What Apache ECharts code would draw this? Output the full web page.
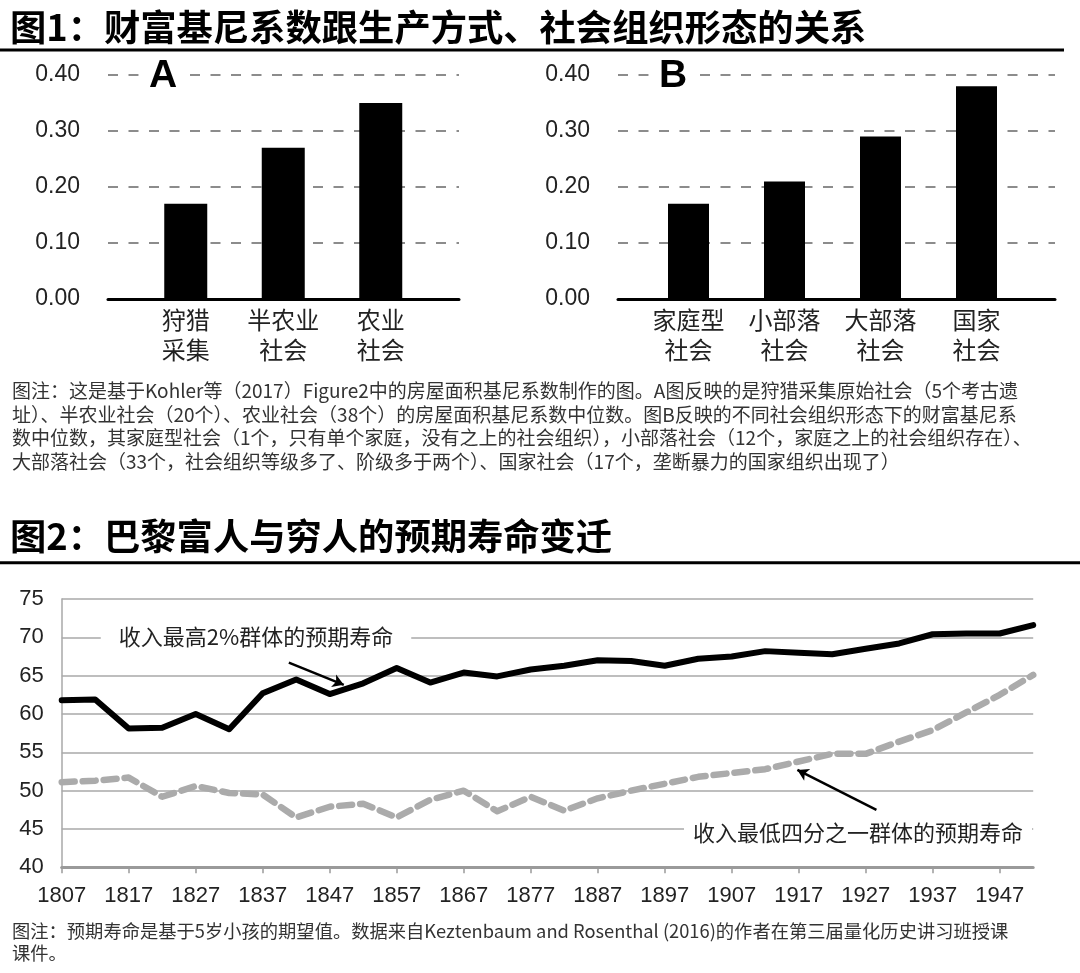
<!DOCTYPE html>
<html>
<head>
<meta charset="utf-8">
<script src="https://cdn.jsdelivr.net/npm/echarts@6/dist/echarts.min.js"></script>
<style>
html, body { margin: 0; padding: 0; background: #fff; }
#main { width: 1080px; height: 973px; }
</style>
</head>
<body>
<div id="main"></div>
<script>
// 图1 A：生产方式
const catsA = ['狩猎\n采集', '半农业\n社会', '农业\n社会'];
const giniA = [0.17, 0.27, 0.35];
// 图1 B：社会组织形态
const catsB = ['家庭型\n社会', '小部落\n社会', '大部落\n社会', '国家\n社会'];
const giniB = [0.17, 0.21, 0.29, 0.38];

// 图2：巴黎预期寿命（每5年一个点）
const years = [1807, 1812, 1817, 1822, 1827, 1832, 1837, 1842, 1847, 1852,
	1857, 1862, 1867, 1872, 1877, 1882, 1887, 1892, 1897, 1902,
	1907, 1912, 1917, 1922, 1927, 1932, 1937, 1942, 1947, 1952];
const yearTicks = [1807, 1817, 1827, 1837, 1847, 1857, 1867, 1877, 1887, 1897, 1907, 1917, 1927, 1937, 1947];
const lifeTop = [61.8, 61.9, 58.1, 58.2, 60.0, 58.0, 62.7, 64.5, 62.6, 64.0,
	66.0, 64.1, 65.4, 64.9, 65.8, 66.3, 67.0, 66.9, 66.3, 67.2,
	67.5, 68.2, 68.0, 67.8, 68.5, 69.2, 70.4, 70.5, 70.5, 71.6];
const lifeLow = [51.1, 51.3, 51.7, 49.2, 50.6, 49.7, 49.5, 46.5, 47.9, 48.3,
	46.5, 48.8, 50.0, 47.3, 49.2, 47.4, 49.0, 50.0, 50.9, 51.8,
	52.3, 52.8, 53.8, 54.8, 54.8, 56.4, 57.9, 60.2, 62.5, 65.1];

const CJK = '"Noto Sans CJK SC", sans-serif';
const NUM = '"Liberation Sans", Arial, sans-serif';

const myChart = echarts.init(document.getElementById('main'));

// 基尼系数的框架轴（虚线网格 + 底部黑线）
function giniFrameX (gi) {
	return {
		type: 'category', gridIndex: gi, data: [''],
		axisLine: { lineStyle: { color: '#000', width: 3 } },
		axisTick: { show: false }, axisLabel: { show: false }
	};
}
function giniFrameY (gi) {
	return {
		type: 'value', gridIndex: gi, min: 0, max: 0.4, interval: 0.1,
		axisLine: { show: false }, axisTick: { show: false },
		axisLabel: { fontFamily: NUM, fontSize: 23, color: '#222', margin: 28, formatter: v => v.toFixed(2) },
		splitLine: { lineStyle: { color: '#8c8c8c', width: 2, type: [10, 10.5] } }
	};
}
function giniBarX (gi, cats) {
	return {
		type: 'category', gridIndex: gi, data: cats,
		axisLine: { show: false }, axisTick: { show: false },
		axisLabel: { interval: 0, fontFamily: CJK, fontSize: 24, lineHeight: 30, color: '#222', margin: 6 }
	};
}
function giniBarY (gi) {
	return { type: 'value', gridIndex: gi, min: 0, max: 0.4, show: false };
}

const option = {
	backgroundColor: '#fff',
	animation: false,
	grid: [
		{ left: 108, top: 75, width: 351, height: 224 },
		{ left: 137, top: 75, width: 292.5, height: 224 },
		{ left: 618, top: 75, width: 437, height: 224 },
		{ left: 640.5, top: 75, width: 384, height: 224 },
		{ left: 61.7, top: 599, width: 971.5, height: 268.3 }
	],
	xAxis: [
		giniFrameX(0), giniBarX(1, catsA), giniFrameX(2), giniBarX(3, catsB),
		{
			type: 'value', gridIndex: 4, min: 1807, max: 1952,
			axisLine: { lineStyle: { color: '#9a9a9a', width: 3 } },
			axisTick: { customValues: yearTicks, length: 6, lineStyle: { color: '#9a9a9a', width: 1.5 } },
			axisLabel: { customValues: yearTicks, fontFamily: NUM, fontSize: 22, color: '#222', margin: 18, formatter: v => String(v) },
			splitLine: { show: false }
		}
	],
	yAxis: [
		giniFrameY(0), giniBarY(1), giniFrameY(2), giniBarY(3),
		{
			type: 'value', gridIndex: 4, min: 40, max: 75, interval: 5,
			axisLine: { show: true, lineStyle: { color: '#a8a8a8', width: 1.5 } },
			axisTick: { show: false },
			axisLabel: { fontFamily: NUM, fontSize: 22, color: '#222', margin: 18 },
			splitLine: { lineStyle: { color: '#a8a8a8', width: 1.5 } }
		}
	],
	series: [
		{ type: 'bar', xAxisIndex: 1, yAxisIndex: 1, data: giniA, barWidth: 43, itemStyle: { color: '#000' } },
		{ type: 'bar', xAxisIndex: 3, yAxisIndex: 3, data: giniB, barWidth: 41, itemStyle: { color: '#000' } },
		{
			name: '收入最高2%群体的预期寿命', type: 'line', xAxisIndex: 4, yAxisIndex: 4,
			data: years.map((y, i) => [y, lifeTop[i]]),
			symbol: 'none', z: 4,
			lineStyle: { color: '#000', width: 6, cap: 'round', join: 'round' },
			markLine: {
				silent: true, symbol: ['none', 'arrow'], symbolSize: [10, 11],
				label: { show: false },
				lineStyle: { color: '#000', width: 2.5, type: 'solid' },
				data: [[{ coord: [1840.9, 66.7] }, { coord: [1849.1, 63.8] }]]
			}
		},
		{
			name: '收入最低四分之一群体的预期寿命', type: 'line', xAxisIndex: 4, yAxisIndex: 4,
			data: years.map((y, i) => [y, lifeLow[i]]),
			symbol: 'none', z: 3,
			lineStyle: { color: '#ababab', width: 6.5, type: [13, 8], cap: 'round', join: 'round' },
			markLine: {
				silent: true, symbol: ['none', 'arrow'], symbolSize: [10, 11],
				label: { show: false },
				lineStyle: { color: '#000', width: 2.5, type: 'solid' },
				data: [[{ coord: [1928.6, 47.5] }, { coord: [1916.8, 52.7] }]]
			}
		}
	],
	graphic: { elements: [
		{ type: 'text', z: 100, x: 10, y: 27, style: { text: '图1：财富基尼系数跟生产方式、社会组织形态的关系', font: 'bold 36.3px ' + CJK, fill: '#000', verticalAlign: 'middle' } },
		{ type: 'line', z: 100, shape: { x1: 0, y1: 50, x2: 1064, y2: 50 }, style: { stroke: '#000', lineWidth: 3 } },
		{ type: 'text', z: 100, x: 163, y: 76, style: { text: 'A', font: 'bold 39px ' + NUM, fill: '#000', align: 'center', verticalAlign: 'middle', backgroundColor: '#fff', padding: [0, 10] } },
		{ type: 'text', z: 100, x: 673, y: 76, style: { text: 'B', font: 'bold 39px ' + NUM, fill: '#000', align: 'center', verticalAlign: 'middle', backgroundColor: '#fff', padding: [0, 10] } },
		{ type: 'text', z: 100, x: 12, y: 379.5, style: {
			text: '图注：这是基于Kohler等（2017）Figure2中的房屋面积基尼系数制作的图。A图反映的是狩猎采集原始社会（5个考古遗\n' +
				'址）、半农业社会（20个）、农业社会（38个）的房屋面积基尼系数中位数。图B反映的不同社会组织形态下的财富基尼系\n' +
				'数中位数，其家庭型社会（1个，只有单个家庭，没有之上的社会组织），小部落社会（12个，家庭之上的社会组织存在）、\n' +
				'大部落社会（33个，社会组织等级多了、阶级多于两个）、国家社会（17个，垄断暴力的国家组织出现了）',
			font: '19px ' + CJK, lineHeight: 23.5, fill: '#333' } },
		{ type: 'text', z: 100, x: 10, y: 536, style: { text: '图2：巴黎富人与穷人的预期寿命变迁', font: 'bold 36.3px ' + CJK, fill: '#000', verticalAlign: 'middle' } },
		{ type: 'line', z: 100, shape: { x1: 0, y1: 562.7, x2: 1080, y2: 562.7 }, style: { stroke: '#000', lineWidth: 3 } },
		{ type: 'text', z: 100, x: 256, y: 637, style: { text: '收入最高2%群体的预期寿命', font: '22px ' + CJK, fill: '#222', align: 'center', verticalAlign: 'middle', backgroundColor: '#fff', padding: [2, 18] } },
		{ type: 'text', z: 100, x: 858, y: 833, style: { text: '收入最低四分之一群体的预期寿命', font: '22px ' + CJK, fill: '#222', align: 'center', verticalAlign: 'middle', backgroundColor: '#fff', padding: [2, 9] } },
		{ type: 'text', z: 100, x: 12, y: 920, style: {
			text: '图注：预期寿命是基于5岁小孩的期望值。数据来自Keztenbaum and Rosenthal (2016)的作者在第三届量化历史讲习班授课\n课件。',
			font: '18.3px ' + CJK, lineHeight: 22, fill: '#333' } }
	] }
};
myChart.setOption(option);
</script>
</body>
</html>
